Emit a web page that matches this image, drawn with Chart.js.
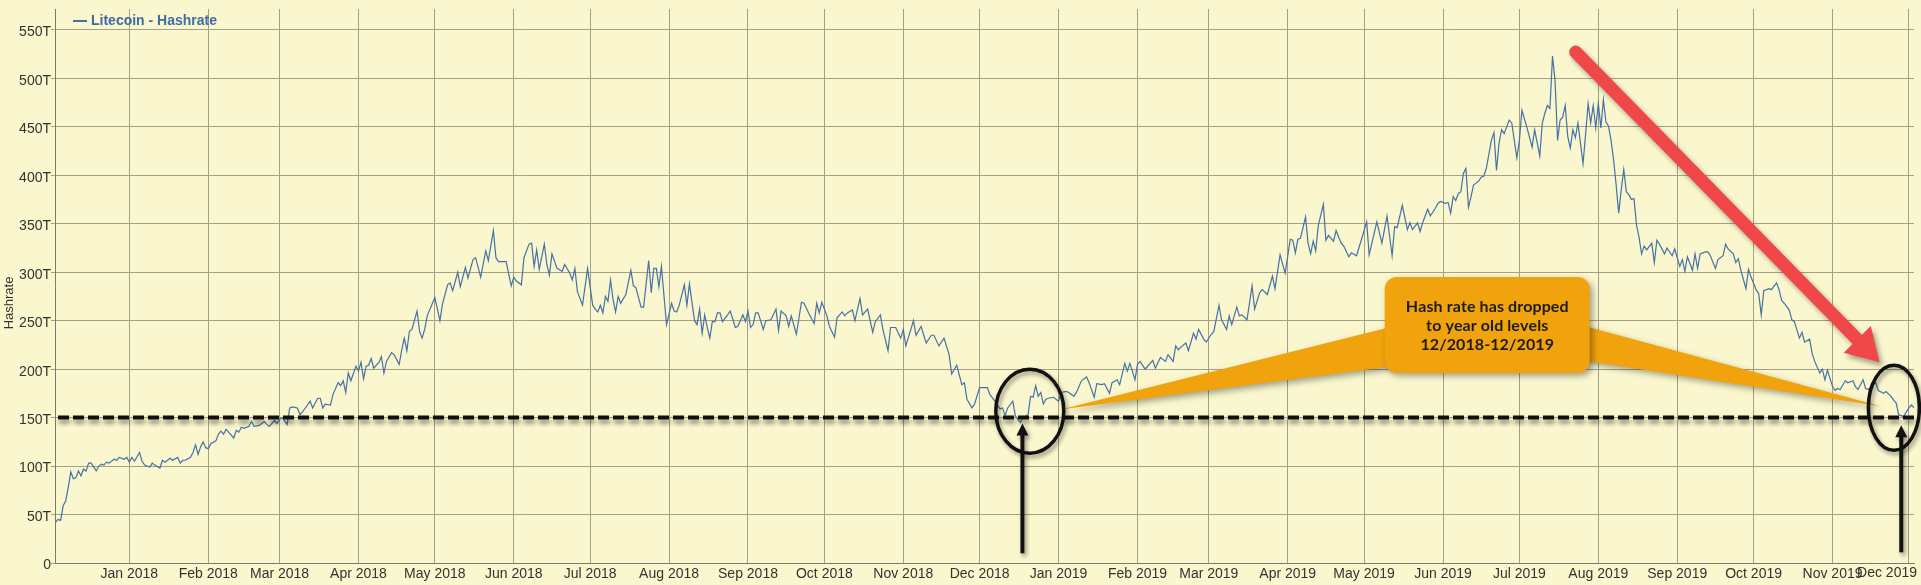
<!DOCTYPE html>
<html>
<head>
<meta charset="utf-8">
<script src="https://cdn.jsdelivr.net/npm/chart.js@4.4.1/dist/chart.umd.min.js"></script>
<style>
  html, body { margin: 0; padding: 0; background: #faf6cd; }
  canvas { display: block; }
</style>
</head>
<body>
<canvas id="c" width="1921" height="585"></canvas>
<script>
// ---- data (day 0 = 1 Jan 2018, hashrate in TH/s) ----
const DAYS = [
  -29,-28,-27,-26,-25,-24,-23,-22,-21,-20,-19,-18,-17,-16,-15,-13,-12,-11,-10,-9,-8,-6,-5,-4,-2,-1,
  0,1,2,4,5,6,8,9,10,12,13,14,16,17,19,20,21,22,24,25,26,27,28,29,30,31,32,34,35,36,37,38,39,41,42,43,44,45,47,48,49,51,53,54,55,57,58,59,60,62,63,64,66,67,68,70,71,72,74,75,76,77,79,80,82,83,84,85,86,87,89,
  90,91,92,93,94,95,96,98,99,100,101,103,104,106,107,108,109,110,111,113,114,115,116,117,120,122,123,125,126,127,129,130,132,133,135,136,138,140,141,143,144,145,148,150,151,152,154,
  155,157,158,159,160,161,163,164,165,166,168,170,171,173,174,175,176,178,180,182,183,184,185,186,187,188,189,190,191,192,193,195,197,198,199,201,202,204,205,206,207,208,209,211,213,214,215,216,218,219,220,
  222,223,224,225,226,227,228,229,230,231,232,233,235,236,237,238,239,241,242,243,244,245,246,247,249,250,252,254,255,256,258,259,260,262,264,265,267,269,270,271,272,274,275,277,278,280,281,282,284,285,287,288,290,
  292,293,295,296,298,299,301,303,304,305,308,309,311,313,315,316,318,320,322,323,325,327,328,329,331,332,334,
  335,337,338,340,342,343,344,345,347,348,349,350,351,353,354,355,356,357,358,359,360,361,363,365,366,368,369,371,372,374,376,377,379,380,382,383,385,386,388,389,391,392,393,394,395,396,397,399,400,402,403,405,407,408,410,
  411,412,414,415,416,418,419,420,422,423,425,426,428,429,431,432,433,435,436,437,439,441,442,444,445,447,449,450,452,454,456,457,458,459,460,462,463,464,465,466,467,469,470,471,473,474,476,477,479,480,482,484,486,487,490,
  492,494,496,497,498,500,502,503,504,506,507,508,510,511,513,514,
  515,517,518,519,520,521,522,523,524,525,526,527,528,530,531,532,533,535,536,537,538,539,540,542,543,545,546,547,549,551,552,554,555,556,557,558,559,560,561,562,563,564,565,566,567,568,569,571,572,573,574,575,576,577,578,579,580,
  581,582,583,584,585,586,587,588,589,590,591,592,593,594,595,596,598,599,600,601,603,604,606,607,609,610,611,612,614,615,616,617,619,620,621,623,624,626,627,628,630,631,632,633,635,636,637,639,640,641,642,644,645,647,648,649,650,
  652,653,654,656,657,658,660,661,662,664,665,666,667,669,670,671,672,674,675,677,678,679,681,682,683,685,686,687,689,690,692,693,694,695,696,697,698,699,700,701
];
const HASHRATE_T = [
  42,45,44,59,64,78,94,87,88,95,90,97,95,103,103,95,100,102,101,104,103,107,106,109,107,109,
  104,109,105,114,105,101,99,103,101,98,106,104,108,106,109,103,106,106,109,114,122,112,120,125,119,118,123,126,133,136,133,138,135,129,137,135,140,139,141,146,141,142,146,143,141,147,144,148,150,143,160,161,160,153,156,163,167,160,170,170,160,164,163,174,186,183,188,176,196,188,203,
  198,207,190,203,204,211,201,207,213,196,208,217,215,205,220,232,219,239,241,260,239,232,241,255,274,250,267,287,289,281,300,285,305,294,313,315,295,322,312,343,315,311,311,286,295,291,287,
  315,329,330,306,323,303,329,308,297,319,304,301,308,299,292,304,280,266,304,266,262,259,266,258,275,270,292,272,259,275,268,277,302,286,284,264,264,312,279,304,304,285,306,246,268,260,259,266,287,266,288,
  250,246,262,237,256,243,232,249,249,258,258,249,256,260,252,243,244,256,249,260,243,246,258,258,241,250,251,262,240,260,255,244,255,236,269,268,257,247,268,258,269,255,244,233,253,259,255,258,261,250,273,256,262,
  238,249,256,241,219,243,243,232,241,224,250,235,244,227,235,235,224,232,215,195,204,184,186,169,160,164,181,
  181,181,174,167,159,160,152,160,167,152,148,145,150,153,172,171,183,172,176,164,169,170,171,167,176,177,176,172,176,188,192,186,171,185,184,185,175,186,189,184,206,198,206,198,189,205,208,200,203,209,201,212,208,215,208,
  224,220,225,227,219,237,231,241,231,228,236,239,266,251,241,255,246,264,255,256,251,286,262,279,282,277,296,283,318,299,334,333,320,334,335,357,330,319,332,322,348,370,333,338,332,343,330,327,316,320,317,334,352,318,352,
  330,358,317,347,346,369,344,351,344,351,342,351,365,358,366,371,
  373,371,372,361,378,374,381,383,402,407,367,378,390,394,398,399,407,436,444,405,433,447,443,457,454,418,436,467,449,429,447,420,454,464,472,469,523,498,436,457,460,472,440,428,447,439,454,412,442,474,454,472,449,474,449,478,455,
  451,436,416,390,361,385,406,383,380,375,376,349,336,319,327,323,330,310,333,329,319,325,317,324,306,313,301,316,302,319,304,319,321,321,317,304,313,317,329,324,319,310,314,302,283,303,295,282,278,256,281,283,282,289,282,271,268,
  261,251,249,232,238,228,231,216,208,196,200,189,199,182,178,180,179,188,186,188,182,179,189,180,179,184,186,178,175,177,172,168,165,153,152,151,156,160,163,160
];
const MONTH_DAYS = [0,31,59,90,120,151,181,212,243,273,304,334,365,396,424,455,485,516,546,577,608,638,669,699];
const MONTH_LABELS = ['Jan 2018','Feb 2018','Mar 2018','Apr 2018','May 2018','Jun 2018','Jul 2018','Aug 2018','Sep 2018','Oct 2018','Nov 2018','Dec 2018',
  'Jan 2019','Feb 2019','Mar 2019','Apr 2019','May 2019','Jun 2019','Jul 2019','Aug 2019','Sep 2019','Oct 2019','Nov 2019','Dec 2019'];
const Y_TICKS = [0,50,100,150,200,250,300,350,400,450,500,550];
const SERIES_NAME = 'Litecoin - Hashrate';
const Y_TITLE = 'Hashrate';
const LEVEL_T = 150;
const CALLOUT_LINES = ['Hash rate has dropped', 'to year old levels', '12/2018-12/2019'];

// ---- styles ----
const LINE_COLOR = '#4572a7';
const GRID_COLOR = '#a3a088';
const AXIS_COLOR = '#7a7a70';
const TEXT_COLOR = '#333333';
const FONT = "'Liberation Sans', Arial, sans-serif";
Chart.defaults.font.family = FONT;

// annotation anchors in chart coordinates (day, TH/s)
const RING_1 = { day: 353.7, val: 156.6, rx: 34, ry: 42 };
const RING_2 = { day: 693.1, val: 160.2, rx: 25.5, ry: 42.5 };
const UP_ARROWS = [ { day: 350.8, from: 10, to: 143.9 }, { day: 696, from: 11, to: 142.2 } ];
const RED_ARROW = { d0: 568.1, v0: 527.2, d1: 687.5, v1: 207.2 };
const BOX = { d0: 493.1, d1: 573.6, v0: 295, v1: 196 };
const TAIL_L = { day: 366.3, val: 158.7, top: 244, bottom: 203 };
const TAIL_R = { day: 687.9, val: 161.8, top: 245.4, bottom: 209.2 };

// text with extra tracking, centred on cx
function spacedText(ctx, text, cx, cy, spacing) {
  const widths = [...text].map(ch => ctx.measureText(ch).width);
  const total = widths.reduce((a, b) => a + b, 0) + spacing * (text.length - 1);
  let xPos = cx - total / 2;
  ctx.textAlign = 'left';
  [...text].forEach((ch, i) => { ctx.fillText(ch, xPos, cy); xPos += widths[i] + spacing; });
}

const overlay = {
  id: 'overlay',
  afterDraw(chart) {
    const { ctx, chartArea: area, scales: { x, y } } = chart;
    const px = d => x.getPixelForValue(d);
    const py = v => y.getPixelForValue(v);
    const shadow = (blur, ox, oy, a) => {
      ctx.shadowColor = 'rgba(0,0,0,' + a + ')';
      ctx.shadowBlur = blur; ctx.shadowOffsetX = ox; ctx.shadowOffsetY = oy;
    };
    const noShadow = () => shadow(0, 0, 0, 0);

    ctx.save();

    // legend
    ctx.strokeStyle = LINE_COLOR; ctx.lineWidth = 2;
    ctx.beginPath(); ctx.moveTo(73, 21); ctx.lineTo(87, 21); ctx.stroke();
    ctx.fillStyle = '#3e6ca6';
    ctx.font = 'bold 14px ' + FONT;
    ctx.textBaseline = 'middle'; ctx.textAlign = 'left';
    ctx.fillText(SERIES_NAME, 91, 21);

    // y axis title
    ctx.save();
    ctx.translate(9, 303); ctx.rotate(-Math.PI / 2);
    ctx.fillStyle = TEXT_COLOR; ctx.font = '13px ' + FONT; ctx.textAlign = 'center';
    ctx.fillText(Y_TITLE, 0, 0);
    ctx.restore();

    // last month label is kept inside the canvas
    ctx.fillStyle = TEXT_COLOR;
    ctx.font = '14px ' + FONT;
    ctx.textAlign = 'right'; ctx.textBaseline = 'top';
    ctx.fillText(MONTH_LABELS[MONTH_LABELS.length - 1], chart.width - 4, area.bottom + 3);

    // 150T level
    shadow(4, 1, 4, 0.45);
    ctx.strokeStyle = '#111'; ctx.lineWidth = 4; ctx.setLineDash([11, 4]);
    ctx.beginPath(); ctx.moveTo(area.left + 3, py(LEVEL_T)); ctx.lineTo(area.right, py(LEVEL_T)); ctx.stroke();
    ctx.setLineDash([]);

    // callout tails + box
    shadow(6, 3, 3, 0.35);
    ctx.fillStyle = '#f0a30c';
    const bx0 = px(BOX.d0), bx1 = px(BOX.d1), by0 = py(BOX.v0), by1 = py(BOX.v1);
    ctx.beginPath();
    ctx.moveTo(bx0 + 8, py(TAIL_L.top)); ctx.lineTo(px(TAIL_L.day), py(TAIL_L.val)); ctx.lineTo(bx0 + 8, py(TAIL_L.bottom));
    ctx.closePath(); ctx.fill();
    ctx.beginPath();
    ctx.moveTo(bx1 - 8, py(TAIL_R.top)); ctx.lineTo(px(TAIL_R.day), py(TAIL_R.val)); ctx.lineTo(bx1 - 8, py(TAIL_R.bottom));
    ctx.closePath(); ctx.fill();
    ctx.beginPath(); ctx.roundRect(bx0, by0, bx1 - bx0, by1 - by0, 12); ctx.fill();
    noShadow();
    ctx.fillStyle = '#1c1c1c';
    ctx.font = "bold 16px Lato, 'Open Sans', sans-serif";
    ctx.textBaseline = 'middle';
    const natural = ctx.measureText(CALLOUT_LINES[0]).width;
    const track = Math.max(0, (162 - natural) / (CALLOUT_LINES[0].length - 1));
    const cx = (bx0 + bx1) / 2;
    CALLOUT_LINES.forEach((t, i) => spacedText(ctx, t, cx, by0 + 30 + i * 19, track));

    // rings
    shadow(4, 2, 3, 0.4);
    ctx.strokeStyle = '#111'; ctx.lineWidth = 3.5;
    [RING_1, RING_2].forEach(r => {
      ctx.beginPath(); ctx.ellipse(px(r.day), py(r.val), r.rx, r.ry, 0, 0, Math.PI * 2); ctx.stroke();
    });

    // black up arrows
    ctx.fillStyle = '#111'; ctx.lineWidth = 4; ctx.lineCap = 'butt';
    UP_ARROWS.forEach(a => {
      const ax = px(a.day), yTip = py(a.to), yEnd = py(a.from);
      ctx.beginPath(); ctx.moveTo(ax, yEnd); ctx.lineTo(ax, yTip + 10); ctx.stroke();
      ctx.beginPath(); ctx.moveTo(ax, yTip); ctx.lineTo(ax - 6, yTip + 12); ctx.lineTo(ax + 6, yTip + 12); ctx.closePath(); ctx.fill();
    });

    // red arrow
    const sx = px(RED_ARROW.d0), sy = py(RED_ARROW.v0), tx = px(RED_ARROW.d1), ty = py(RED_ARROW.v1);
    const len = Math.hypot(tx - sx, ty - sy), ux = (tx - sx) / len, uy = (ty - sy) / len;
    const headLen = 32, headHalf = 19;
    const hx = tx - ux * headLen, hy = ty - uy * headLen;
    shadow(5, 3, 4, 0.35);
    ctx.strokeStyle = '#f04848'; ctx.fillStyle = '#f04848';
    ctx.lineWidth = 13; ctx.lineCap = 'round';
    ctx.beginPath(); ctx.moveTo(sx, sy); ctx.lineTo(hx + ux * 4, hy + uy * 4); ctx.stroke();
    ctx.beginPath();
    ctx.moveTo(tx, ty);
    ctx.lineTo(hx + uy * headHalf, hy - ux * headHalf);
    ctx.lineTo(hx - uy * headHalf, hy + ux * headHalf);
    ctx.closePath(); ctx.fill();

    ctx.restore();
  }
};

new Chart(document.getElementById('c'), {
  type: 'line',
  data: {
    datasets: [{
      label: SERIES_NAME,
      data: DAYS.map((d, i) => ({ x: d, y: HASHRATE_T[i] })),
      borderColor: LINE_COLOR,
      borderWidth: 1.2,
      pointRadius: 0,
      tension: 0,
      fill: false
    }]
  },
  options: {
    responsive: false,
    animation: false,
    devicePixelRatio: 1,
    layout: { padding: { top: 9, right: 7, left: 0, bottom: 0 } },
    plugins: { legend: { display: false }, tooltip: { enabled: false } },
    scales: {
      x: {
        type: 'linear',
        min: -29.2,
        max: 701,
        afterBuildTicks: s => { s.ticks = MONTH_DAYS.map(v => ({ value: v })); },
        afterFit: s => { s.height = 22; s.paddingLeft = 0; s.paddingRight = 0; },
        ticks: {
          autoSkip: false, maxRotation: 0, minRotation: 0, padding: 3,
          color: TEXT_COLOR, font: { size: 14 },
          callback: (v, i) => (i === MONTH_LABELS.length - 1 ? '' : MONTH_LABELS[i])
        },
        grid: { color: GRID_COLOR, drawTicks: false, lineWidth: 1 },
        border: { color: AXIS_COLOR, width: 1 }
      },
      y: {
        min: 0,
        max: 571.6,
        afterBuildTicks: s => { s.ticks = Y_TICKS.map(v => ({ value: v })); },
        afterFit: s => { s.width = 55; s.paddingTop = 0; s.paddingBottom = 0; },
        ticks: {
          padding: 0, labelOffset: 2.5,
          color: TEXT_COLOR, font: { size: 14 },
          callback: v => (v === 0 ? '0' : v + 'T')
        },
        grid: { color: GRID_COLOR, tickLength: 4, lineWidth: 1 },
        border: { color: AXIS_COLOR, width: 1 }
      }
    }
  },
  plugins: [overlay]
});
</script>
</body>
</html>
